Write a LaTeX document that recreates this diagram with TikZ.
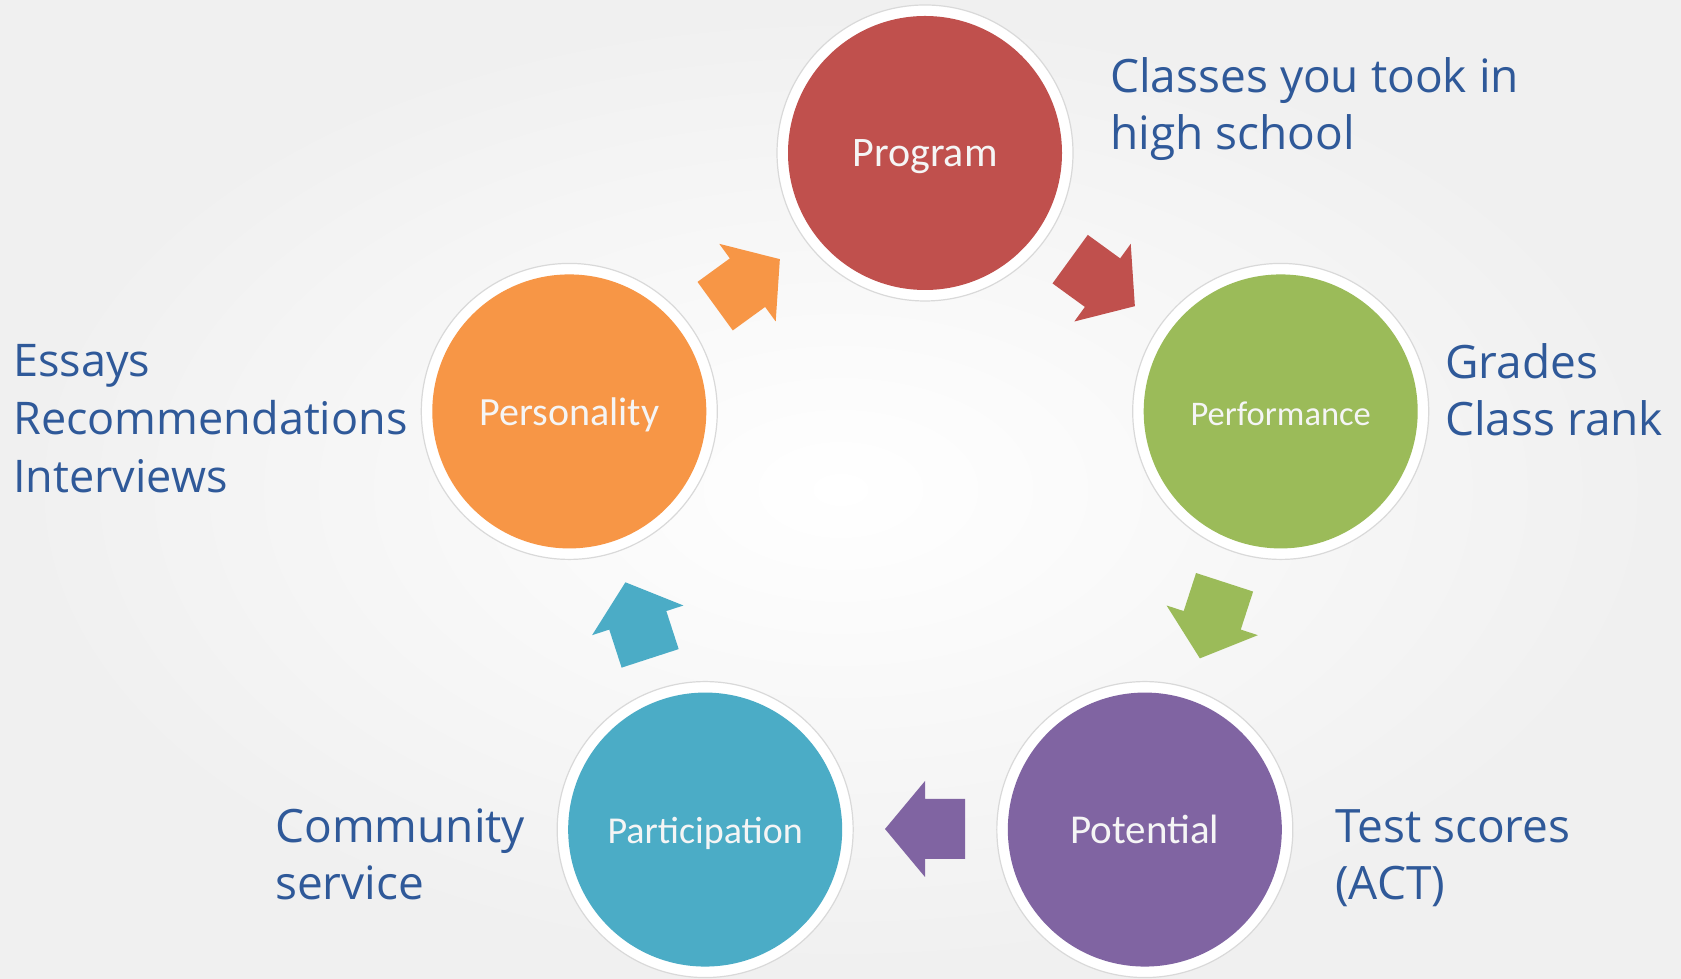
\documentclass[tikz,border=0pt]{standalone}
\usepackage{fontspec}
\setmainfont{Open Sans}
\newfontfamily\calib{Carlito}
\usetikzlibrary{calc}
\definecolor{cprog}{HTML}{C0504D}
\definecolor{cperf}{HTML}{9BBB59}
\definecolor{cpot}{HTML}{8064A2}
\definecolor{cpart}{HTML}{4BACC6}
\definecolor{cpers}{HTML}{F79646}
\definecolor{lblue}{RGB}{47,89,153}
\definecolor{ringgray}{HTML}{D9D9D9}
\tikzset{
  ring/.style={circle, draw=ringgray, line width=1.2pt, fill=white, minimum size=296pt, inner sep=0pt},
  disc/.style={circle, fill=#1, minimum size=274pt, inner sep=0pt, text=white!96!black,
     text height=28pt, text depth=0pt},
  side/.style={anchor=base west, align=left, text=lblue, inner sep=0pt,
     font=\fontsize{46pt}{57pt}\selectfont},
}
\begin{document}
\begin{tikzpicture}[x=1pt,y=1pt]
\useasboundingbox (0,0) rectangle (1681,979);
\shade[inner color=white, outer color=black!6] (0,0) rectangle (1681,979);
\coordinate (O) at (925,452);
% rings and discs
\node[ring] (progring) at ($(O)+(90:374)$) {};
\node[ring] (perfring) at ($(O)+(18:374)$) {};
\node[ring] (potring)  at ($(O)+(-54:374)$) {};
\node[ring] (partring) at ($(O)+(-126:374)$) {};
\node[ring] (persring) at ($(O)+(162:374)$) {};
\node[disc=cprog, font=\calib\fontsize{42pt}{50pt}\selectfont] (prog) at (progring) {Program};
\node[disc=cperf, font=\calib\fontsize{34.5pt}{42pt}\selectfont] (perf) at (perfring) {Performance};
\node[disc=cpot,  font=\calib\fontsize{41pt}{50pt}\selectfont] (pot)  at (potring) {Potential};
\node[disc=cpart, font=\calib\fontsize{38pt}{46pt}\selectfont] (part) at (partring) {Participation};
\node[disc=cpers, font=\calib\fontsize{40pt}{48pt}\selectfont] (pers) at (persring) {Personality};
% block arrows
\foreach \a/\c in {54/cprog, -18/cperf, -90/cpot, -162/cpart, 126/cpers} {
  \begin{scope}[shift={($(O)+(\a:302)$)}, rotate=\a-90]
    \fill[\c] (-40,-30) -- (0,-30) -- (0,-48) -- (40,0) -- (0,48) -- (0,30) -- (-40,30) -- cycle;
  \end{scope}
}
% side labels (anchor = baseline of the last line)
\node[side] (classes) at (1110,829) {Classes you took in\\high school};
\node[side] (grades) at (1445,543) {Grades\\Class rank};
\node[side] (tests) at (1335,79) {Test scores\\(ACT)};
\node[side] (comm) at (275,79) {Community\\service};
\node[side, font=\fontsize{45pt}{58pt}\selectfont] (essays) at (13,486) {Essays\\Recommendations\\Interviews};
\end{tikzpicture}
\end{document}
